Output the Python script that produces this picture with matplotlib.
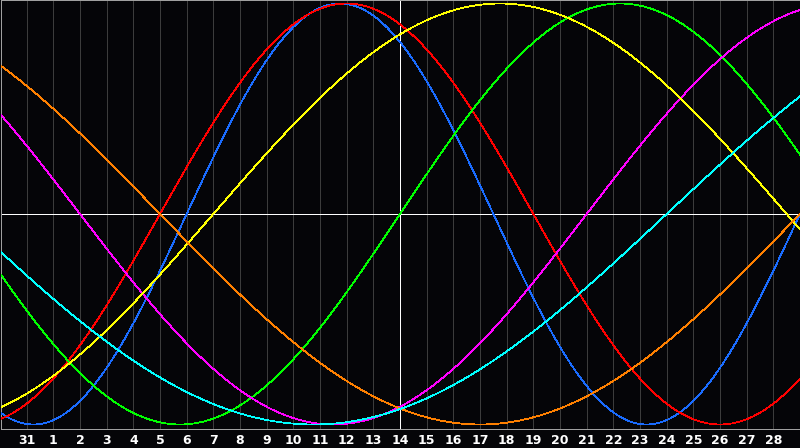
import numpy as np
import matplotlib
matplotlib.use("Agg")
import matplotlib.pyplot as plt

# ---- data ----
cycle_names = ["Physical", "Emotional", "Intellectual", "Intuitive",
               "Aesthetic", "Awareness", "Spiritual"]
cycle_periods = [23, 28, 33, 38, 43, 48, 53]          # days
cycle_phase_at_start = [16, 22, 18, 16, 35, 18, 28]    # day within cycle at left edge
cycle_colors = ["#1a6cff", "#ff0000", "#00ff00", "#ff00ff",
                "#ffff00", "#ff8000", "#00ffff"]
day_positions = list(range(1, 30))                      # grid days from left edge
day_labels = ["31"] + [str(i) for i in range(1, 29)]
today_position = 15                                      # the "14"
chart_span_days = 30

# ---- figure ----
W, H = 800, 448
fig = plt.figure(figsize=(W / 100, H / 100), dpi=100, facecolor="#050508")
ax = fig.add_axes([0.5 / W, (H - 428.5) / H, 799 / W, 428 / H])
ax.set_facecolor("#050508")

px_per_day = W / chart_span_days
ax.set_xlim(0.5 / px_per_day, 799.5 / px_per_day)
amp_px = 210.5
ax.set_ylim((214 - 428.5) / amp_px, (214 - 0.5) / amp_px)

# grid
for d in day_positions:
    if d == today_position:
        continue
    ax.axvline(d, color="#3c3c3c", lw=0.72, antialiased=False, zorder=1)
ax.axvline(today_position, color="#ffffff", lw=0.72, antialiased=False, zorder=2)
ax.axhline(0, color="#ffffff", lw=0.72, antialiased=False, zorder=2)

# curves
t = np.linspace(0, chart_span_days, 1200)
for name, p, ph, c in zip(cycle_names, cycle_periods, cycle_phase_at_start, cycle_colors):
    ax.plot(t, np.sin(2 * np.pi * (t + ph) / p), color=c, lw=0.55,
            antialiased=False, zorder=3, label=name)

# axes styling
for s in ax.spines.values():
    s.set_color("#a0a0a0")
    s.set_linewidth(0.72)
ax.set_yticks([])
ax.set_xticks(day_positions)
ax.set_xticklabels(day_labels)
ax.tick_params(axis="x", length=0, pad=4.0, colors="#ffffff",
               labelsize=9)
for lbl in ax.get_xticklabels():
    lbl.set_fontweight("bold")
    lbl.set_family("DejaVu Sans")

fig.savefig("out.png", dpi=100, facecolor=fig.get_facecolor())
